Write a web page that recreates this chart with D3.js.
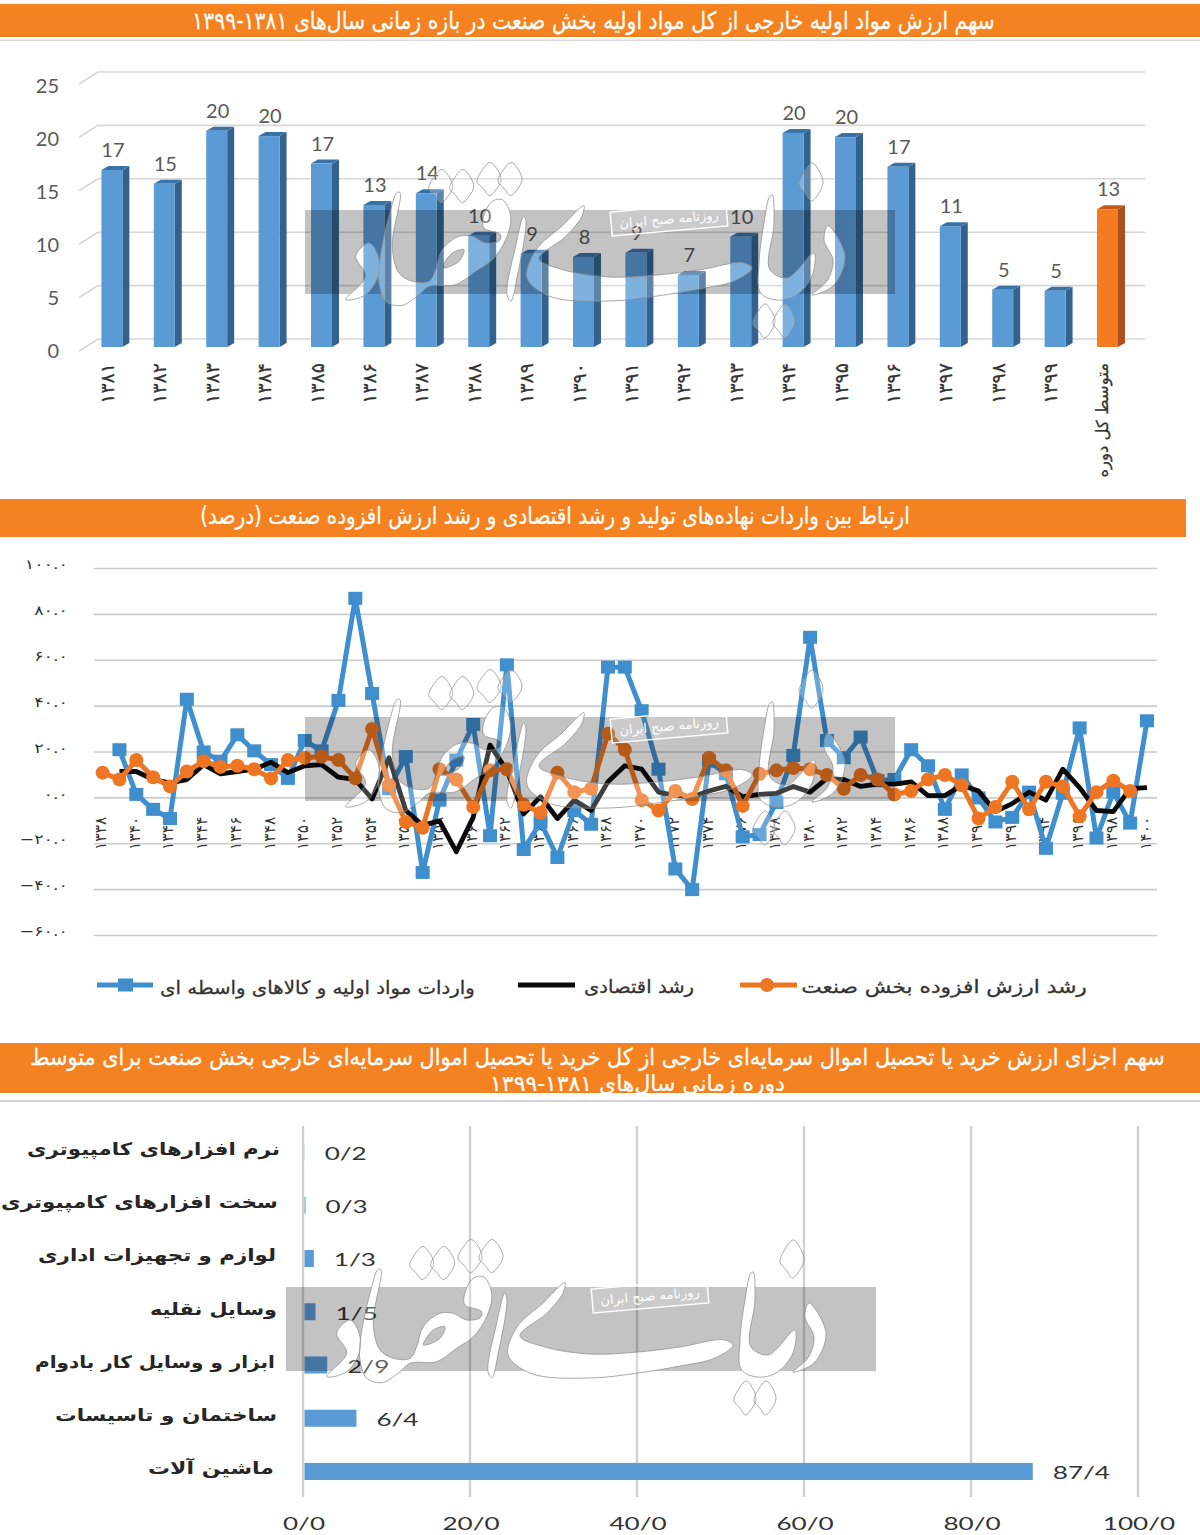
<!DOCTYPE html>
<html><head><meta charset="utf-8">
<script src="https://cdnjs.cloudflare.com/ajax/libs/d3/7.8.5/d3.min.js"></script>
<style>
html,body{margin:0;padding:0;background:#fff}
svg{display:block}
text{font-family:"DejaVu Sans",sans-serif}
.lat{font-family:Lato,sans-serif}
.rtl{direction:rtl;unicode-bidi:embed}
</style></head><body>
<svg id="c" width="1200" height="1535"></svg>
<script>
// ---------- data ----------
const shareYears = ["۱۳۸۱","۱۳۸۲","۱۳۸۳","۱۳۸۴","۱۳۸۵","۱۳۸۶","۱۳۸۷","۱۳۸۸","۱۳۸۹","۱۳۹۰","۱۳۹۱","۱۳۹۲","۱۳۹۳","۱۳۹۴","۱۳۹۵","۱۳۹۶","۱۳۹۷","۱۳۹۸","۱۳۹۹","متوسط کل دوره"];
const shareValues = [16.7,15.4,20.4,19.9,17.3,13.4,14.5,10.5,8.8,8.5,8.9,6.8,10.4,20.2,19.8,17.0,11.4,5.4,5.3,13.0];
const shareLabels = ["17","15","20","20","17","13","14","10","9","8","9","7","10","20","20","17","11","5","5","13"];
const shareTicks = [0,5,10,15,20,25];

const lineYears = d3.range(1338,1401);
const importsSeries = [null,21,1.5,-5,-9,43,20,16,27.5,20.5,14.5,8.5,25,20.5,42.5,87,45.5,4,18,-32.5,-1,16.5,32,-16.5,58,-22.5,-10.5,-26,-5.5,-11.5,57,57,38,12.5,-31,-40,16,10.5,-17,-16,-2,18.5,70,25,17.5,26.5,7.5,8,21,14,-5,10,0,-10.5,-8.5,2.5,-22,2,30.5,-17.5,2.5,-11,33.6];
const economySeries = [null,11.5,11.5,8,6.5,8,14.5,10.5,11.5,12.5,15.5,11,14,14.5,9,8,-0.5,17.5,-5.5,-12,-10,-23.5,-8.5,23,12,-7,0.5,-9,-1,-5.5,7,14,12.5,2.5,1,0.5,3,5,0.5,1.5,2,5,2.5,8.5,8,5,6,6,7,1,1,5.5,3,-6,-2.5,2.5,-1,12.5,4.5,-5.5,-6,4,4.5];
const industrySeries = [11,8,16.5,9,5,11.5,16,13.5,14,12.5,8.5,16.5,17.5,18,16.5,8.5,30,5.5,-10.5,-13,12.5,8,-4,12,12.5,-3,-6.5,11,2.5,4,28,21,-1,-5.5,3,-0.5,17.5,12,-3.5,10.5,12,13,12.5,10,4,10,8,1.5,3,8,10,5.5,-9,-4,7,-5,7,5,-8,2.5,7.5,3,null];
const lineTicks = [100,80,60,40,20,0,-20,-40,-60];
const lineNames = ["واردات مواد اولیه و کالاهای واسطه ای","رشد اقتصادی","رشد ارزش افزوده بخش صنعت"];

const partNames = ["نرم افزارهای کامپیوتری","سخت افزارهای کامپیوتری","لوازم و تجهیزات اداری","وسایل نقلیه","ابزار و وسایل کار بادوام","ساختمان و تاسیسات","ماشین آلات"];
const partValues = [0.2,0.3,1.3,1.5,2.9,6.4,87.4];
const partTicks = [0,20,40,60,80,100];

const title1 = "سهم ارزش مواد اولیه خارجی از کل مواد اولیه بخش صنعت در بازه زمانی سال‌های ۱۳۸۱-۱۳۹۹";
const title2 = "ارتباط بین واردات نهاده‌های تولید و رشد اقتصادی و رشد ارزش افزوده صنعت (درصد)";
const title3a = "سهم اجزای ارزش خرید یا تحصیل اموال سرمایه‌ای خارجی از کل خرید یا تحصیل اموال سرمایه‌ای خارجی بخش صنعت برای متوسط";
const title3b = "دوره زمانی سال‌های ۱۳۸۱-۱۳۹۹";
const wmCaption = "روزنامه صبح ایران";

// ---------- helpers ----------
const svg = d3.select("#c");
const fa = n => String(n).replace(/\d/g,d=>"۰۱۲۳۴۵۶۷۸۹"[d]);
const defs = svg.append("defs");
function fit(sel,x0,x1,y,size,opts={}){
  const t = sel.append("text").attr("class","rtl").attr("text-anchor","middle")
    .attr("dominant-baseline","central").attr("font-size",size)
    .attr("fill",opts.fill||"#fff").attr("font-weight",opts.weight||"normal").text(opts.text);
  if(opts.stroke) t.attr("stroke",opts.fill||"#fff").attr("stroke-width",opts.stroke);
  const w = t.node().getComputedTextLength();
  t.attr("transform",`translate(${(x0+x1)/2},${y}) scale(${(x1-x0)/w},1)`);
  return t;
}
function banner(y0,y1,x1){
  svg.append("rect").attr("x",0).attr("y",y0).attr("width",x1).attr("height",y1-y0).attr("fill","#F58220");
}

// ---------- banners ----------
banner(4,37,1200);
svg.append("rect").attr("x",0).attr("y",39.5).attr("width",1200).attr("height",1.5).attr("fill","#d9d9d9");
fit(svg,192,995,20,24,{text:title1,stroke:.25});
banner(499,537,1186);
fit(svg,200,910,516,24,{text:title2,stroke:.25});
banner(1043,1093,1200);
svg.append("rect").attr("x",0).attr("y",1100).attr("width",1200).attr("height",2).attr("fill","#d4d4d4");
fit(svg,30,1165,1057,23,{text:title3a,stroke:.25});
fit(svg,490,785,1083,22,{text:title3b,stroke:.25});

// ---------- chart 1: 3-D columns ----------
const c1 = svg.append("g");
const x1 = d3.scaleBand().domain(shareYears).range([85.7,1133.7]).paddingInner(0.6).paddingOuter(0.3);
const y1 = d3.scaleLinear().domain([0,25]).range([347,82]);
const y1Back = d3.scaleLinear().domain([0,25]).range([339,72]);
const y1Lab = d3.scaleLinear().domain([0,25]).range([350,85]);
const dx=7, dy=4;
shareTicks.forEach(t=>{
  c1.append("path").attr("d",`M79,${y1Back(t)+12}L98,${y1Back(t)}L1145,${y1Back(t)}`)
    .attr("fill","none").attr("stroke","#d6d6d6").attr("stroke-width",1.6);
  c1.append("text").attr("class","lat").attr("x",59).attr("y",y1Lab(t)).attr("text-anchor","end")
    .attr("dominant-baseline","central").attr("font-size",20).attr("fill","#595959").text(t);
});
const bars = c1.selectAll("g.b").data(shareYears).join("g").attr("class","b");
const isAvg = i => i===shareYears.length-1;
bars.each(function(name,i){
  const g=d3.select(this), X=x1(name), W=x1.bandwidth(), T=y1(shareValues[i]), B=y1(0);
  g.append("path").attr("d",`M${X+W},${T}L${X+W+dx},${T-dy}L${X+W+dx},${B-dy}L${X+W},${B}Z`).attr("fill",isAvg(i)?"#A9501C":"#33628F");
  g.append("path").attr("d",`M${X},${T}L${X+dx},${T-dy}L${X+W+dx},${T-dy}L${X+W},${T}Z`).attr("fill",isAvg(i)?"#C4571A":"#3B72A5");
  g.append("rect").attr("x",X).attr("y",T).attr("width",W).attr("height",B-T).attr("fill",isAvg(i)?"#F47B20":"#5B9BD5");
  g.append("text").attr("class","lat").attr("x",X+W/2+1).attr("y",T-dy-17).attr("text-anchor","middle")
    .attr("dominant-baseline","central").attr("font-size",20).attr("fill","#595959").text(shareLabels[i]);
  g.append("text").attr("class","rtl").attr("text-anchor","start").attr("dominant-baseline","central")
    .attr("font-size",isAvg(i)?16.5:19).attr("fill","#333").attr("stroke","#333").attr("stroke-width",.25)
    .attr("transform",`translate(${X+W/2-5},363) rotate(-90)`).text(name);
});

// ---------- chart 2: lines ----------
const c2 = svg.append("g");
const x2 = d3.scalePoint().domain(lineYears).range([102.6,1147]);
const y2 = d3.scaleLinear().domain([-60,100]).range([935.5,568.5]);
lineTicks.forEach(t=>{
  c2.append("line").attr("x1",94).attr("x2",1157).attr("y1",y2(t)).attr("y2",y2(t)).attr("stroke","#cccccc").attr("stroke-width",1.6);
  c2.append("text").attr("text-anchor","end").attr("dominant-baseline","central")
    .attr("font-size",13.5).attr("fill","#333")
    .attr("transform",`translate(68,${y2(t)-4}) scale(1.3,1)`)
    .text((t<0?"−":"")+fa(Math.abs(t))+".۰");
});
lineYears.filter((d,i)=>i%2===0).forEach(yr=>{
  c2.append("text").attr("text-anchor","start").attr("dominant-baseline","central").attr("font-size",15.5).attr("fill","#333")
    .attr("transform",`translate(${x2(yr)-1.5},850) rotate(-90)`).text(fa(yr));
});
const lineGen = d3.line().defined(d=>d.v!==null).x(d=>x2(d.y)).y(d=>y2(d.v));
const toPts = s => lineYears.map((y,i)=>({y,v:s[i]}));
const BLUE="#3F8FCF", ORG="#EE7623", BLK="#0a0a0a";
c2.append("path").datum(toPts(importsSeries)).attr("d",lineGen).attr("fill","none").attr("stroke",BLUE).attr("stroke-width",5).attr("stroke-linejoin","round");
c2.selectAll("rect.m").data(toPts(importsSeries).filter(d=>d.v!==null)).join("rect").attr("class","m")
  .attr("x",d=>x2(d.y)-7).attr("y",d=>y2(d.v)-6.5).attr("width",14).attr("height",13).attr("fill",BLUE);
c2.append("path").datum(toPts(economySeries)).attr("d",lineGen).attr("fill","none").attr("stroke",BLK).attr("stroke-width",4.8).attr("stroke-linejoin","round");
c2.append("path").datum(toPts(industrySeries)).attr("d",lineGen).attr("fill","none").attr("stroke",ORG).attr("stroke-width",5).attr("stroke-linejoin","round");
c2.selectAll("circle.m").data(toPts(industrySeries).filter(d=>d.v!==null)).join("circle").attr("class","m")
  .attr("cx",d=>x2(d.y)).attr("cy",d=>y2(d.v)).attr("r",7).attr("fill",ORG);
// legend
const lg = c2.append("g");
lg.append("line").attr("x1",97).attr("x2",153).attr("y1",985).attr("y2",985).attr("stroke",BLUE).attr("stroke-width",5);
lg.append("rect").attr("x",118).attr("y",978.5).attr("width",15).attr("height",13).attr("fill",BLUE);
fit(lg,160,475,987,18,{text:lineNames[0],fill:"#333",stroke:.3});
lg.append("line").attr("x1",518).attr("x2",575).attr("y1",985).attr("y2",985).attr("stroke",BLK).attr("stroke-width",5);
fit(lg,584,694,987,18,{text:lineNames[1],fill:"#333",stroke:.3});
lg.append("line").attr("x1",740).attr("x2",797).attr("y1",985).attr("y2",985).attr("stroke",ORG).attr("stroke-width",5);
lg.append("circle").attr("cx",767).attr("cy",985).attr("r",7).attr("fill",ORG);
fit(lg,801,1087,987,18,{text:lineNames[2],fill:"#333",stroke:.3});

// ---------- chart 3: horizontal bars ----------
const c3 = svg.append("g");
const x3 = d3.scaleLinear().domain([0,100]).range([303,1138]);
const y3 = d3.scaleBand().domain(partNames).range([1125.4,1498.1]).paddingInner(0.68).paddingOuter(0.34);
partTicks.forEach(t=>{
  c3.append("line").attr("x1",x3(t)).attr("x2",x3(t)).attr("y1",1126).attr("y2",1497).attr("stroke","#d0d0d0").attr("stroke-width",2.4);
  c3.append("text").attr("class","lat").attr("text-anchor","middle").attr("dominant-baseline","central")
    .attr("font-size",18).attr("fill","#333")
    .attr("transform",`translate(${x3(t)+1},1523) scale(1.45,1)`).text(t+"/0");
});
c3.selectAll("rect.b").data(partNames).join("rect").attr("class","b")
  .attr("x",x3(0)+1.5).attr("y",d=>y3(d)).attr("height",y3.bandwidth())
  .attr("width",(d,i)=>x3(partValues[i])-x3(0)-1.5).attr("fill","#5B9BD5");
const labelExtents = [[27,280],[1,278],[38,276],[150,277],[35,275],[55,277],[148,274]];
partNames.forEach((n,i)=>{
  const cy=y3(n)+y3.bandwidth()/2;
  fit(c3,labelExtents[i][0],labelExtents[i][1],cy-3,17,{text:n,fill:"#262626",weight:"bold"});
  c3.append("text").attr("class","lat").attr("text-anchor","start").attr("dominant-baseline","central")
    .attr("font-size",18).attr("fill","#333")
    .attr("transform",`translate(${x3(partValues[i])+20},${cy+1}) scale(1.45,1)`)
    .text(String(partValues[i]).replace(".","/"));
});

// ---------- watermark (decoration, drawn on top of all three charts) ----------
const blob = d3.line().curve(d3.curveCatmullRomClosed.alpha(.6));
const dia=(cx,cy,w,h)=>blob([[cx+w*.05,cy-h/2],[cx+w*.35,cy-h*.28],[cx+w/2,cy+h*.02],[cx+w*.32,cy+h*.3],[cx+w*.02,cy+h/2],[cx-w*.25,cy+h*.28],[cx-w/2,cy+h*.08],[cx-w*.3,cy-h*.25]]);
const wmPaths = [
  dia(421.7,1263,24,33),dia(442.7,1263,24,33),dia(470,1256,24,33),dia(491,1256,24,33),
  dia(792,1259,24,38),dia(745,1398,22,34),dia(765,1398,22,34),
  // دنیا
  blob([[753,1272],[755,1300],[751,1347],[768,1355],[795,1330],[793,1353],[776,1373],[757,1377],[741.6,1370],[740,1340],[745,1300],[751,1273]]),
  blob([[808.6,1303],[826,1333],[814,1363],[793,1372],[808.6,1357],[814,1337],[805,1317]]),
  // ی swash
  blob([[565,1282.7],[543,1303],[517,1327],[508,1355],[530,1373],[590,1378],[638,1373],[680,1366],[715,1358],[733,1345],[725,1340],[680,1347],[638,1352],[590,1354],[545,1347],[520,1336],[547,1313],[563,1293]]),
  // ا
  blob([[505,1293],[496.7,1323],[488.3,1373],[491.7,1378],[498.3,1353],[506.7,1297]]),
  // د
  blob([[350,1320],[336.7,1333],[346.7,1353],[326.7,1376.7],[346.7,1371.7],[360,1350],[358,1330]]),
  // ا + ص + ق with the counter of ص
  blob([[380.7,1269.3],[373.3,1323.3],[380,1350],[393.3,1358.3],[410,1358.3],[416.7,1346.7],[423.3,1326.7],[440,1313.3],[453.3,1313.3],[466.7,1320],[480.7,1317.3],[481.7,1311.7],[465,1305],[464,1296.7],[473.3,1278.3],[483.3,1276.7],[491.7,1293.3],[486.7,1316.7],[473.3,1336.7],[456.7,1348.3],[436.7,1361.7],[410,1363.3],[398.3,1373.3],[381.7,1382.7],[366.7,1378.3],[360,1360],[360,1343.3],[370,1293.3],[378.3,1269.3]])
   + blob([[423.3,1345],[433.3,1330],[445,1326.7],[440,1338.3]])
];
const mask = defs.append("mask").attr("id","wm").attr("maskUnits","userSpaceOnUse")
  .attr("x",0).attr("y",0).attr("width",1200).attr("height",1535);
mask.append("rect").attr("x",0).attr("y",0).attr("width",1200).attr("height",1535).attr("fill","#fff");
wmPaths.forEach(p=>mask.append("path").attr("d",p).attr("fill","#000").attr("fill-rule","evenodd"));
[[19,-1077],[19,-570],[0,0]].forEach(([ox,oy])=>{
  const g=svg.append("g").attr("transform",`translate(${ox},${oy})`);
  g.append("rect").attr("x",286).attr("y",1287).attr("width",590).attr("height",84).attr("fill","#000").attr("opacity",.23).attr("mask","url(#wm)");
  wmPaths.forEach(p=>g.append("path").attr("d",p).attr("fill","#fff").attr("fill-rule","evenodd").attr("fill-opacity",.22).attr("stroke","#8c8c8c").attr("stroke-opacity",.75).attr("stroke-width",1));
  const cap=g.append("g").attr("transform","translate(650,1296) rotate(-5)");
  cap.append("rect").attr("x",-58).attr("y",-12).attr("width",116).attr("height",24).attr("fill","#fff").attr("fill-opacity",.12).attr("stroke","#fff").attr("stroke-width",1.5);
  cap.append("text").attr("class","rtl").attr("text-anchor","middle").attr("dominant-baseline","central").attr("font-size",13).attr("fill","#fff").text(wmCaption);
});
</script>
</body></html>
